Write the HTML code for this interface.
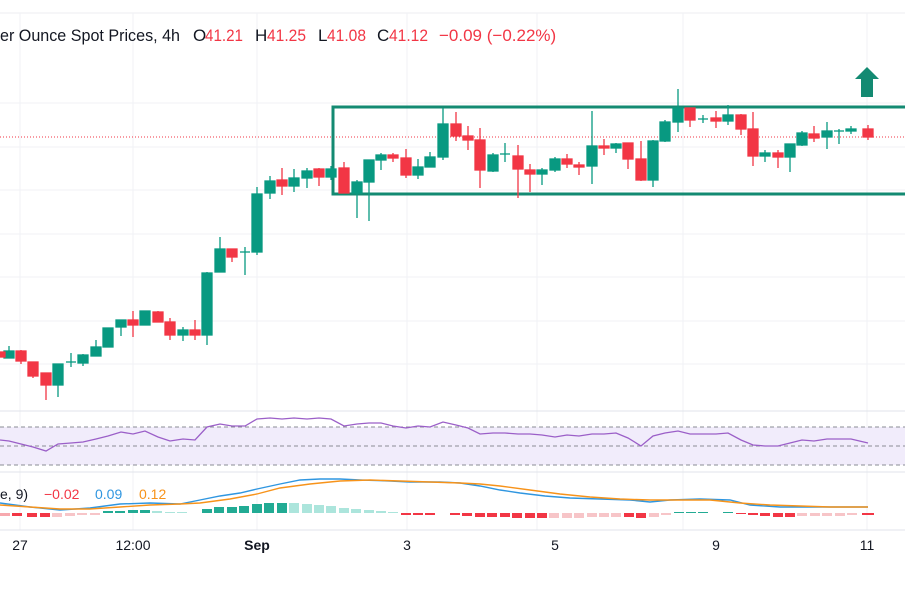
<!DOCTYPE html>
<html><head><meta charset="utf-8"><style>
html,body{margin:0;padding:0;background:#fff;}
svg{display:block;font-family:"Liberation Sans",sans-serif;}
</style></head><body>
<svg width="905" height="613" viewBox="0 0 905 613" xmlns="http://www.w3.org/2000/svg">
<rect width="905" height="613" fill="#fff"/>
<line x1="0" y1="13" x2="905" y2="13" stroke="#eceef2"/>
<!-- grid -->
<g stroke="#f0f2f5" stroke-width="1">
<line x1="0" y1="103" x2="905" y2="103"/><line x1="0" y1="147" x2="905" y2="147"/><line x1="0" y1="190" x2="905" y2="190"/><line x1="0" y1="234" x2="905" y2="234"/><line x1="0" y1="277" x2="905" y2="277"/><line x1="0" y1="321" x2="905" y2="321"/><line x1="0" y1="364" x2="905" y2="364"/>
<line x1="20" y1="13" x2="20" y2="530"/><line x1="133" y1="13" x2="133" y2="530"/><line x1="257" y1="13" x2="257" y2="530"/><line x1="407" y1="13" x2="407" y2="530"/><line x1="537" y1="13" x2="537" y2="530"/><line x1="683" y1="13" x2="683" y2="530"/><line x1="867" y1="13" x2="867" y2="530"/>
</g>
<g font-size="17">
<text x="0" y="41" fill="#131722" textLength="180" lengthAdjust="spacingAndGlyphs">er Ounce Spot Prices, 4h</text>
<text x="193" y="41" fill="#131722">O</text><text x="205" y="41" fill="#f23645" textLength="38" lengthAdjust="spacingAndGlyphs">41.21</text>
<text x="255" y="41" fill="#131722">H</text><text x="267" y="41" fill="#f23645" textLength="39" lengthAdjust="spacingAndGlyphs">41.25</text>
<text x="318" y="41" fill="#131722">L</text><text x="327" y="41" fill="#f23645" textLength="39" lengthAdjust="spacingAndGlyphs">41.08</text>
<text x="377" y="41" fill="#131722">C</text><text x="389" y="41" fill="#f23645" textLength="39" lengthAdjust="spacingAndGlyphs">41.12</text>
<text x="439" y="41" fill="#f23645">−0.09 (−0.22%)</text>
</g>
<!-- price line -->
<line x1="0" y1="137" x2="905" y2="137" stroke="#f23645" stroke-width="1" stroke-dasharray="1,2"/>
<!-- rectangle -->
<rect x="333" y="107" width="580" height="87" fill="none" stroke="#138a72" stroke-width="3"/>
<!-- arrow -->
<polygon points="867,67 879,79 873,79 873,97 861,97 861,79 855,79" fill="#138a72"/>
<!-- candles green -->
<g stroke="#089981" fill="#089981" stroke-width="1.3">
<line x1="9" y1="346" x2="9" y2="358"/><rect x="4" y="351" width="10" height="7"/>
<line x1="58" y1="364" x2="58" y2="397"/><rect x="53" y="364" width="10" height="21"/>
<line x1="71" y1="353" x2="71" y2="367"/><line x1="66" y1="362" x2="76" y2="362"/>
<line x1="83" y1="354" x2="83" y2="366"/><rect x="78" y="355" width="10" height="8"/>
<line x1="96" y1="340" x2="96" y2="356"/><rect x="91" y="347" width="10" height="9"/>
<line x1="108" y1="328" x2="108" y2="347"/><rect x="103" y="328" width="10" height="19"/>
<line x1="121" y1="320" x2="121" y2="336"/><rect x="116" y="320" width="10" height="7"/>
<line x1="145" y1="311" x2="145" y2="325"/><rect x="140" y="311" width="10" height="14"/>
<line x1="183" y1="327" x2="183" y2="341"/><rect x="178" y="330" width="10" height="5"/>
<line x1="207" y1="272" x2="207" y2="345"/><rect x="202" y="273" width="10" height="62"/>
<line x1="220" y1="237" x2="220" y2="272"/><rect x="215" y="249" width="10" height="23"/>
<line x1="245" y1="247" x2="245" y2="275"/><line x1="240" y1="252" x2="250" y2="252"/>
<line x1="257" y1="187" x2="257" y2="255"/><rect x="252" y="194" width="10" height="58"/>
<line x1="270" y1="176" x2="270" y2="199"/><rect x="265" y="181" width="10" height="12"/>
<line x1="294" y1="169" x2="294" y2="192"/><rect x="289" y="178" width="10" height="8"/>
<line x1="307" y1="168" x2="307" y2="188"/><rect x="302" y="171" width="10" height="7"/>
<line x1="331" y1="166" x2="331" y2="180"/><rect x="326" y="169" width="10" height="8"/>
<line x1="357" y1="180" x2="357" y2="218"/><rect x="352" y="182" width="10" height="11"/>
<line x1="369" y1="160" x2="369" y2="221"/><rect x="364" y="160" width="10" height="22"/>
<line x1="381" y1="153" x2="381" y2="170"/><rect x="376" y="155" width="10" height="5"/>
<line x1="418" y1="159" x2="418" y2="179"/><rect x="413" y="167" width="10" height="8"/>
<line x1="430" y1="152" x2="430" y2="167"/><rect x="425" y="157" width="10" height="10"/>
<line x1="443" y1="108" x2="443" y2="160"/><rect x="438" y="124" width="10" height="33"/>
<line x1="493" y1="153" x2="493" y2="172"/><rect x="488" y="155" width="10" height="16"/>
<line x1="505" y1="143" x2="505" y2="162"/><line x1="500" y1="154" x2="510" y2="154"/>
<line x1="542" y1="168" x2="542" y2="185"/><rect x="537" y="170" width="10" height="4"/>
<line x1="555" y1="157" x2="555" y2="172"/><rect x="550" y="159" width="10" height="11"/>
<line x1="592" y1="111" x2="592" y2="184"/><rect x="587" y="146" width="10" height="20"/>
<line x1="616" y1="143" x2="616" y2="153"/><rect x="611" y="144" width="10" height="4"/>
<line x1="653" y1="140" x2="653" y2="187"/><rect x="648" y="141" width="10" height="39"/>
<line x1="665" y1="120" x2="665" y2="142"/><rect x="660" y="122" width="10" height="19"/>
<line x1="678" y1="89" x2="678" y2="132"/><rect x="673" y="108" width="10" height="14"/>
<line x1="703" y1="115" x2="703" y2="123"/><line x1="698" y1="119" x2="708" y2="119"/>
<line x1="728" y1="105" x2="728" y2="125"/><rect x="723" y="115" width="10" height="6"/>
<line x1="765" y1="150" x2="765" y2="162"/><rect x="760" y="153" width="10" height="3"/>
<line x1="790" y1="144" x2="790" y2="172"/><rect x="785" y="144" width="10" height="13"/>
<line x1="802" y1="131" x2="802" y2="146"/><rect x="797" y="133" width="10" height="12"/>
<line x1="827" y1="122" x2="827" y2="149"/><rect x="822" y="131" width="10" height="6"/>
<line x1="839" y1="129" x2="839" y2="144"/><line x1="834" y1="131" x2="844" y2="131"/>
<line x1="851" y1="126" x2="851" y2="134"/><rect x="846" y="129" width="10" height="2"/>
</g>
<g stroke="#f23645" fill="#f23645" stroke-width="1.3">
<rect x="-5" y="352" width="10" height="5"/>
<line x1="21" y1="350" x2="21" y2="364"/><rect x="16" y="351" width="10" height="10"/>
<line x1="33" y1="362" x2="33" y2="378"/><rect x="28" y="362" width="10" height="14"/>
<line x1="46" y1="373" x2="46" y2="400"/><rect x="41" y="373" width="10" height="12"/>
<line x1="133" y1="311" x2="133" y2="337"/><rect x="128" y="320" width="10" height="5"/>
<line x1="158" y1="311" x2="158" y2="322"/><rect x="153" y="312" width="10" height="10"/>
<line x1="170" y1="318" x2="170" y2="340"/><rect x="165" y="322" width="10" height="13"/>
<line x1="195" y1="320" x2="195" y2="340"/><rect x="190" y="330" width="10" height="5"/>
<line x1="232" y1="249" x2="232" y2="262"/><rect x="227" y="249" width="10" height="8"/>
<line x1="282" y1="168" x2="282" y2="195"/><rect x="277" y="180" width="10" height="6"/>
<line x1="319" y1="168" x2="319" y2="186"/><rect x="314" y="169" width="10" height="8"/>
<line x1="344" y1="162" x2="344" y2="193"/><rect x="339" y="168" width="10" height="25"/>
<line x1="393" y1="153" x2="393" y2="162"/><rect x="388" y="155" width="10" height="3"/>
<line x1="406" y1="149" x2="406" y2="178"/><rect x="401" y="158" width="10" height="17"/>
<line x1="456" y1="112" x2="456" y2="141"/><rect x="451" y="124" width="10" height="12"/>
<line x1="468" y1="126" x2="468" y2="150"/><rect x="463" y="136" width="10" height="4"/>
<line x1="480" y1="128" x2="480" y2="188"/><rect x="475" y="140" width="10" height="30"/>
<line x1="518" y1="145" x2="518" y2="198"/><rect x="513" y="156" width="10" height="13"/>
<line x1="530" y1="164" x2="530" y2="192"/><rect x="525" y="170" width="10" height="4"/>
<line x1="567" y1="154" x2="567" y2="168"/><rect x="562" y="159" width="10" height="5"/>
<line x1="579" y1="162" x2="579" y2="175"/><rect x="574" y="165" width="10" height="2"/>
<line x1="604" y1="139" x2="604" y2="155"/><rect x="599" y="146" width="10" height="2"/>
<line x1="628" y1="143" x2="628" y2="169"/><rect x="623" y="143" width="10" height="16"/>
<line x1="641" y1="141" x2="641" y2="181"/><rect x="636" y="159" width="10" height="21"/>
<line x1="690" y1="108" x2="690" y2="127"/><rect x="685" y="108" width="10" height="12"/>
<line x1="716" y1="111" x2="716" y2="128"/><rect x="711" y="118" width="10" height="3"/>
<line x1="741" y1="114" x2="741" y2="135"/><rect x="736" y="115" width="10" height="14"/>
<line x1="753" y1="112" x2="753" y2="166"/><rect x="748" y="129" width="10" height="27"/>
<line x1="778" y1="150" x2="778" y2="168"/><rect x="773" y="153" width="10" height="4"/>
<line x1="814" y1="126" x2="814" y2="142"/><rect x="809" y="134" width="10" height="4"/>
<line x1="868" y1="125" x2="868" y2="140"/><rect x="863" y="129" width="10" height="8"/>
</g>
<!-- RSI panel -->
<line x1="0" y1="411" x2="905" y2="411" stroke="#e0e3eb"/>
<rect x="0" y="427" width="905" height="38" fill="#f1ecfb"/>
<g stroke="#8a8d96" stroke-dasharray="4,3" stroke-width="1">
<line x1="0" y1="427" x2="905" y2="427"/><line x1="0" y1="446" x2="905" y2="446"/><line x1="0" y1="465" x2="905" y2="465"/>
</g>
<polyline fill="none" stroke="#9b5fc8" stroke-width="1.3" points="0,440 9,441 21,444 33,447 46,451 58,444 71,443 83,442 96,439 108,436 121,432 133,434 145,431 158,437 170,441 183,439 195,440 207,427 220,424 232,426 245,426 257,419 270,418 282,419 294,418 307,419 319,418 331,419 344,426 357,424 369,423 381,423 393,426 406,428 418,426 430,427 443,422 456,425 468,428 480,434 493,433 505,433 518,434 530,434 542,435 555,437 567,435 579,436 592,434 604,434 616,433 628,438 641,446 653,436 665,433 678,431 690,434 703,434 716,434 728,433 741,440 753,445 765,446 778,446 790,443 802,440 814,441 827,439 839,439 851,439 868,443"/>
<line x1="0" y1="472" x2="905" y2="472" stroke="#e0e3eb"/>
<!-- MACD -->
<g>
<rect x="-2" y="513" width="12" height="3" fill="#f7a9ae"/><rect x="12" y="513" width="10" height="3" fill="#f23645"/><rect x="27" y="513" width="10" height="4" fill="#f23645"/><rect x="40" y="513" width="10" height="4" fill="#f23645"/><rect x="52" y="513" width="10" height="4" fill="#f7c5c8"/><rect x="65" y="513" width="10" height="3" fill="#f7c5c8"/><rect x="77" y="513" width="10" height="2" fill="#f7c5c8"/><rect x="90" y="513" width="10" height="2" fill="#f7c5c8"/>
<rect x="103" y="511" width="10" height="2" fill="#22ab94"/><rect x="115" y="511" width="10" height="2" fill="#22ab94"/><rect x="128" y="510" width="10" height="3" fill="#22ab94"/><rect x="140" y="510" width="10" height="3" fill="#22ab94"/><rect x="152" y="511" width="10" height="2" fill="#ace5dc"/><rect x="165" y="512" width="10" height="1" fill="#ace5dc"/><rect x="177" y="512" width="10" height="1" fill="#ace5dc"/>
<rect x="202" y="509" width="10" height="4" fill="#22ab94"/><rect x="214" y="507" width="10" height="6" fill="#22ab94"/><rect x="227" y="507" width="10" height="6" fill="#22ab94"/><rect x="239" y="506" width="10" height="7" fill="#22ab94"/><rect x="252" y="504" width="10" height="9" fill="#22ab94"/><rect x="264" y="503" width="10" height="10" fill="#22ab94"/><rect x="277" y="503" width="10" height="10" fill="#22ab94"/>
<rect x="289" y="503" width="10" height="10" fill="#ace5dc"/><rect x="302" y="504" width="10" height="9" fill="#ace5dc"/><rect x="314" y="505" width="10" height="8" fill="#ace5dc"/><rect x="326" y="506" width="10" height="7" fill="#ace5dc"/><rect x="339" y="508" width="10" height="5" fill="#ace5dc"/><rect x="351" y="509" width="10" height="4" fill="#ace5dc"/><rect x="364" y="510" width="10" height="3" fill="#ace5dc"/><rect x="376" y="511" width="10" height="2" fill="#ace5dc"/><rect x="388" y="512" width="10" height="1" fill="#ace5dc"/>
<rect x="401" y="513" width="10" height="2" fill="#f23645"/><rect x="413" y="513" width="10" height="2" fill="#f23645"/><rect x="425" y="513" width="10" height="2" fill="#f23645"/><rect x="450" y="513" width="10" height="2" fill="#f23645"/><rect x="462" y="513" width="10" height="3" fill="#f23645"/><rect x="475" y="513" width="10" height="4" fill="#f23645"/><rect x="487" y="513" width="10" height="4" fill="#f23645"/><rect x="500" y="513" width="10" height="4" fill="#f23645"/><rect x="512" y="513" width="10" height="5" fill="#f23645"/><rect x="525" y="513" width="10" height="5" fill="#f23645"/><rect x="537" y="513" width="10" height="5" fill="#f23645"/>
<rect x="549" y="513" width="10" height="5" fill="#f7c5c8"/><rect x="562" y="513" width="10" height="5" fill="#f7c5c8"/><rect x="574" y="513" width="10" height="5" fill="#f7c5c8"/><rect x="587" y="513" width="10" height="4" fill="#f7c5c8"/><rect x="599" y="513" width="10" height="4" fill="#f7c5c8"/><rect x="611" y="513" width="10" height="4" fill="#f7c5c8"/><rect x="624" y="513" width="10" height="4" fill="#f23645"/><rect x="636" y="513" width="10" height="5" fill="#f23645"/><rect x="649" y="513" width="10" height="4" fill="#f7c5c8"/><rect x="661" y="513" width="10" height="2" fill="#f7c5c8"/>
<rect x="674" y="512" width="10" height="1" fill="#22ab94"/><rect x="686" y="512" width="10" height="1" fill="#22ab94"/><rect x="698" y="512" width="10" height="1" fill="#22ab94"/><rect x="723" y="512" width="10" height="1" fill="#22ab94"/>
<rect x="736" y="513" width="10" height="1" fill="#f23645"/><rect x="748" y="513" width="10" height="2" fill="#f23645"/><rect x="760" y="513" width="10" height="3" fill="#f23645"/><rect x="773" y="513" width="10" height="4" fill="#f23645"/><rect x="785" y="513" width="10" height="4" fill="#f23645"/>
<rect x="797" y="513" width="10" height="3" fill="#f7c5c8"/><rect x="810" y="513" width="10" height="3" fill="#f7c5c8"/><rect x="822" y="513" width="10" height="3" fill="#f7c5c8"/><rect x="835" y="513" width="10" height="3" fill="#f7c5c8"/><rect x="847" y="513" width="10" height="2" fill="#f7c5c8"/><rect x="862" y="513" width="12" height="2" fill="#f23645"/>
</g>
<polyline fill="none" stroke="#2f96e0" stroke-width="1.4" points="0,503 30,507 60,510 90,508 120,504 150,503 180,504 200,500 220,496 240,493 257,489 280,484 300,480 320,479 340,479 360,480 390,481 410,482 440,482 460,483 480,486 500,490 520,493 545,496 570,498 600,499 630,500 650,502 670,500 700,499 730,500 750,505 780,507 810,507 840,507 868,507"/>
<polyline fill="none" stroke="#f7931a" stroke-width="1.4" points="0,505 30,507 60,509 90,509 120,507 150,505 180,504 200,503 230,499 257,494 280,488 310,484 340,481 370,480 400,481 430,482 460,483 480,484 500,486 530,490 560,494 590,497 620,499 650,500 680,500 710,500 740,503 770,505 800,506 830,507 868,507"/>
<text x="0" y="499" font-size="14" fill="#131722">e, 9)</text>
<text x="44" y="499" font-size="14" fill="#f23645">−0.02</text>
<text x="95" y="499" font-size="14" fill="#2f96e0">0.09</text>
<text x="139" y="499" font-size="14" fill="#f7931a">0.12</text>
<!-- time axis -->
<line x1="0" y1="530" x2="905" y2="530" stroke="#e0e3eb"/>
<g font-size="14" fill="#131722" text-anchor="middle">
<text x="20" y="550">27</text><text x="133" y="550">12:00</text><text x="257" y="550" font-weight="bold">Sep</text><text x="407" y="550">3</text><text x="555" y="550">5</text><text x="716" y="550">9</text><text x="867" y="550">11</text>
</g>
</svg>
</body></html>
